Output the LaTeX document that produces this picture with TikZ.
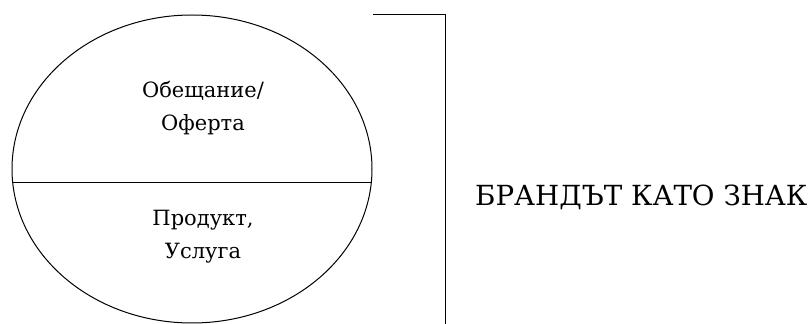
\documentclass[tikz,border=0pt]{standalone}
\usepackage{fontspec}
\setmainfont{DejaVu Serif}
\usetikzlibrary{shapes.geometric}
\begin{document}
\begin{tikzpicture}[x=1pt,y=1pt,
  line/.style={draw=black,line width=1pt},
  inner/.style={align=center,font=\fontsize{21}{33}\selectfont,inner sep=0pt},
  lbl/.style={font=\fontsize{27.7}{33}\selectfont,inner sep=0pt,anchor=base west}]
\useasboundingbox (0,0) rectangle (812,324);
\fill[white] (0,0) rectangle (812,324);
\node[ellipse,line,minimum width=360pt,minimum height=308pt,inner sep=0pt] (el) at (192,155) {};
\coordinate (cl) at (12.7,141);
\coordinate (cr) at (371.3,141);
\draw[line] (cl) -- (cr);
\node[inner] (top) at (203,216) {Обещание/\\Оферта};
\node[inner] (bot) at (203,87) {Продукт,\\Услуга};
\coordinate (b1) at (373,309);
\coordinate (b2) at (445,309);
\coordinate (b3) at (445,0);
\draw[line] (b1) -- (b2) -- (b3);
\node[lbl] (brand) at (475,118) {БРАНДЪТ КАТО ЗНАК};
\end{tikzpicture}
\end{document}
